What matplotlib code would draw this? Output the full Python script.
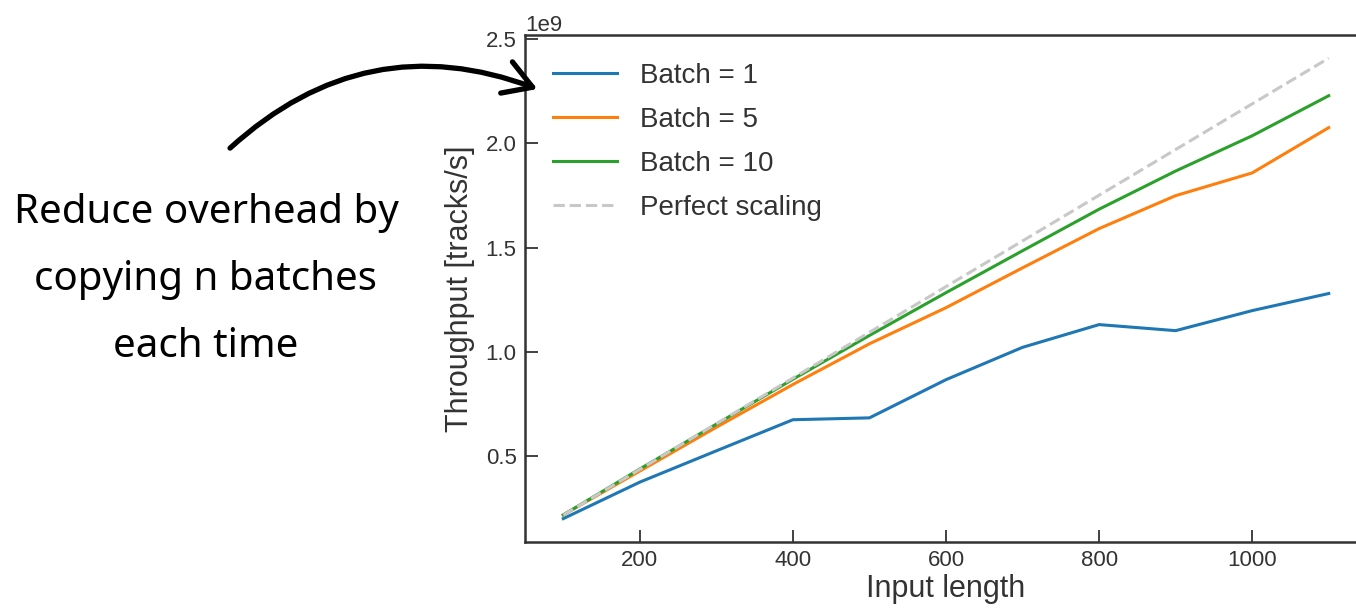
import numpy as np
import matplotlib
matplotlib.use('Agg')
import matplotlib.pyplot as plt

plt.rcParams['font.family'] = ['Liberation Sans', 'DejaVu Sans']

## data
lengths = [100, 200, 300, 400, 500, 600, 700, 800, 900, 1000, 1100]
batch1 = [0.202, 0.377, 0.527, 0.676, 0.685, 0.868, 1.023, 1.132, 1.103, 1.199, 1.281]
batch5 = [0.220, 0.430, 0.640, 0.845, 1.040, 1.213, 1.404, 1.592, 1.750, 1.859, 2.076]
batch10 = [0.220, 0.440, 0.655, 0.870, 1.080, 1.285, 1.486, 1.685, 1.868, 2.037, 2.229]
perfect = [0.219, 0.438, 0.657, 0.876, 1.095, 1.314, 1.533, 1.752, 1.971, 2.190, 2.409]
scale = 1e9

W, H = 1356, 609
fig = plt.figure(figsize=(W/100, H/100), dpi=100)

## axes extends a bit past the right edge (reference is cropped there)
ax = fig.add_axes([525/W, 1-542/H, (1367-525)/W, (542-35)/H])

ax.plot(lengths, np.array(batch1)*scale, color='#1f77b4', lw=2.2, label='Batch = 1')
ax.plot(lengths, np.array(batch5)*scale, color='#ff7f0e', lw=2.2, label='Batch = 5')
ax.plot(lengths, np.array(batch10)*scale, color='#2ca02c', lw=2.2, label='Batch = 10')
ax.plot(lengths, np.array(perfect)*scale, '--', color='#c8c8c8', lw=2.2, label='Perfect scaling')

ax.set_xlim(50, 1150)
ax.set_ylim(0.09e9, 2.52e9)
ax.set_xticks([200, 400, 600, 800, 1000])
ax.set_yticks([0.5e9, 1.0e9, 1.5e9, 2.0e9, 2.5e9])

for s in ax.spines.values():
    s.set_color('#333333')
    s.set_linewidth(1.8)
ax.tick_params(direction='in', length=9, width=1.3, color='#333333',
               labelsize=16, labelcolor='#333333', pad=6)
ax.yaxis.get_offset_text().set_fontsize(16)
ax.yaxis.get_offset_text().set_color('#333333')

ax.set_xlabel('Input length', fontsize=22, color='#333333', labelpad=2)
ax.set_ylabel('Throughput [tracks/s]', fontsize=22, color='#333333', labelpad=8)

leg = ax.legend(loc='upper left', frameon=False, fontsize=20, handlelength=2.3,
                handletextpad=0.85, labelspacing=0.65, borderaxespad=0.6)
for t in leg.get_texts():
    t.set_color('#333333')

## annotation on the left
fig.text(206/W, 1-280/H, 'Reduce overhead by\ncopying n batches\neach time',
         ha='center', va='center', fontsize=29, family=['Noto Sans', 'DejaVu Sans'],
         linespacing=1.9, color='black')

ax.annotate('', xy=(540, H-90), xycoords='figure pixels',
            xytext=(228, H-150), textcoords='figure pixels',
            arrowprops=dict(arrowstyle='->,head_length=1.0,head_width=0.6',
                            connectionstyle='arc3,rad=-0.31', color='black',
                            lw=3.8, mutation_scale=20))

plt.savefig('out.png', dpi=100)
